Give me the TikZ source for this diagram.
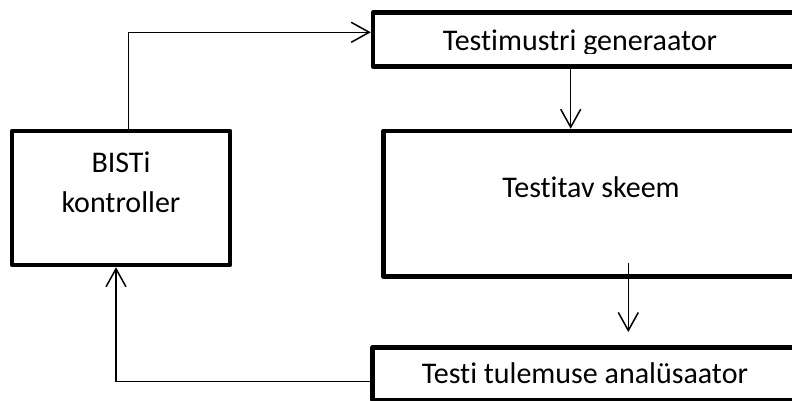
\documentclass[tikz,border=0pt]{standalone}
\usepackage{fontspec}
\setmainfont{Carlito}[Ligatures=NoCommon]
\usetikzlibrary{arrows.meta}
\begin{document}
\begin{tikzpicture}[x=1pt,y=-1pt,
  block/.style={draw, line width=4.5pt, line join=round, rectangle, inner sep=0pt},
  caption/.style={font=\fontsize{30}{40}\selectfont, inner sep=0pt, anchor=base},
  link/.style={line width=1.5pt, -{Straight Barb[length=18pt,width=20pt]}}]

\useasboundingbox (0,0) rectangle (792,400);
\clip (0,0) rectangle (792,400);

% blocks
\node[block, minimum width=218pt, minimum height=134pt] (ctrl) at (121,198) {};
\node[block, minimum width=424pt, minimum height=54pt] (gen) at (585,39.5) {};
\node[block, minimum width=413.5pt, minimum height=145.5pt] (dut) at (590.25,203.75) {};
\node[block, minimum width=424.5pt, minimum height=52.5pt] (ana) at (584.75,373.75) {};

% block texts
\node[caption] (ctrltop) at (121,172) {BISTi};
\node[caption] (ctrlbot) at (121,212) {kontroller};
\begin{scope}
  \clip (376,15) rectangle (794,53);
  \node[caption] (gentext) at (580,50) {Testimustri generaator};
\end{scope}
\node[caption] (duttext) at (591,197) {Testitav skeem};
\node[caption] (anatext) at (585,383) {Testi tulemuse analüsaator};

% connectors
\coordinate (up) at (128.3,32.3);
\draw[link] (ctrl.north -| up) -- (up) -- (up -| gen.west);

\coordinate (gx) at (570.7,0);
\draw[link] (gx |- gen.south) -- (gx |- dut.north);

\coordinate (dstart) at (628.3,263);
\coordinate (dend) at (628.3,332);
\draw[link] (dstart) -- (dend);

\coordinate (fb) at (116,381.7);
\draw[link] (ana.west |- fb) -- (fb) -- (fb |- ctrl.south);
\end{tikzpicture}
\end{document}
